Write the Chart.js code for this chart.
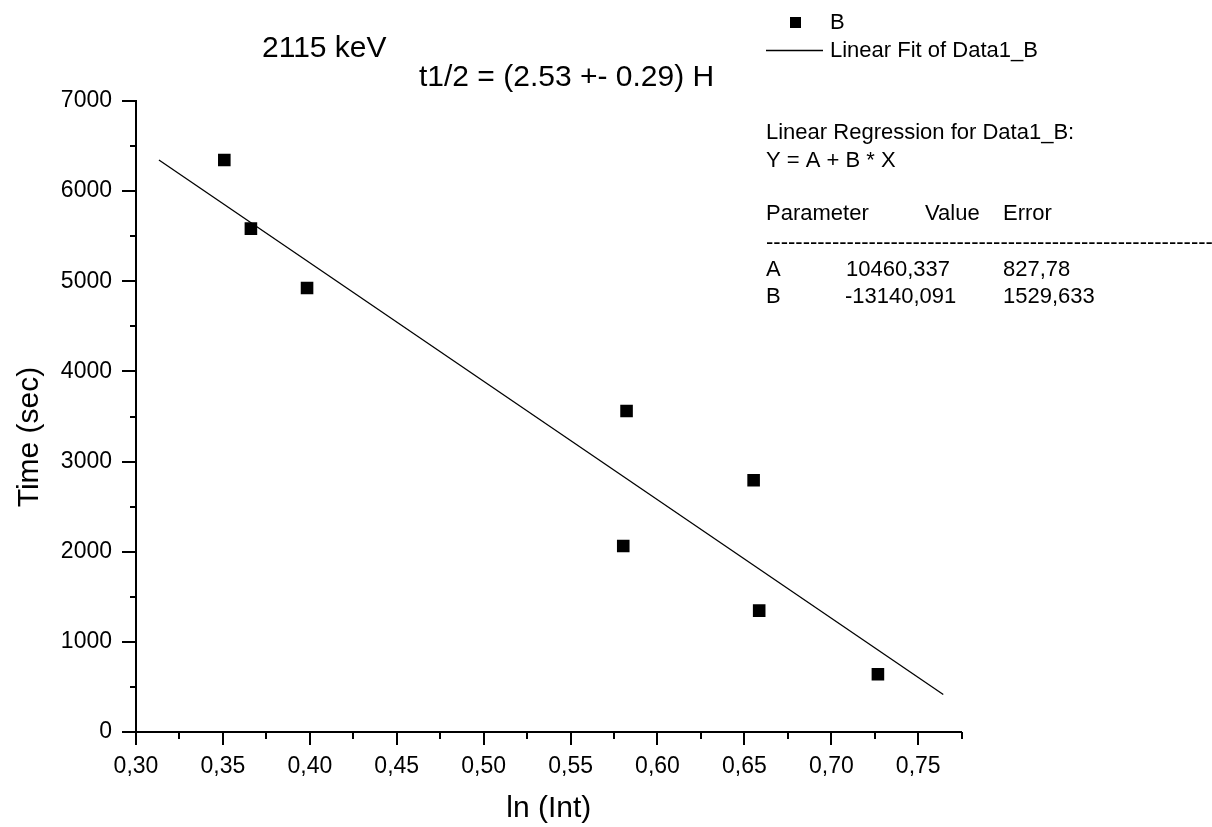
<!DOCTYPE html>
<html><head><meta charset="utf-8">
<script src="https://cdn.jsdelivr.net/npm/chart.js@4.4.0/dist/chart.umd.min.js"></script>
<style>html,body{margin:0;padding:0;background:#fff;overflow:hidden}#wrap{width:1212px;height:827px}</style>
</head><body><div id="wrap"><canvas id="c" width="1212" height="827"></canvas></div>
<script>
// ---- data ----
const xValues = [0.3508, 0.3661, 0.3984, 0.5822, 0.6553, 0.5803, 0.6585, 0.7268];
const yValues = [6346, 5584, 4926, 3561, 2792, 2063, 1346, 640];
const fitX = [0.3132, 0.7644];
const fitA = 10460.337;
const fitB = -13140.091;
const xMajorTicks = [0.30, 0.35, 0.40, 0.45, 0.50, 0.55, 0.60, 0.65, 0.70, 0.75];
const xMinorTicks = [0.325, 0.375, 0.425, 0.475, 0.525, 0.575, 0.625, 0.675, 0.725, 0.775];
const yMajorTicks = [0, 1000, 2000, 3000, 4000, 5000, 6000, 7000];
const yMinorTicks = [500, 1500, 2500, 3500, 4500, 5500, 6500];
const titleText = '2115 keV';
const subtitleText = 't1/2 = (2.53 +- 0.29) H';
const xAxisTitle = 'ln (Int)';
const yAxisTitle = 'Time (sec)';
const seriesLabel = 'B';
const fitLabel = 'Linear Fit of Data1_B';
const regHeader = ['Linear Regression for Data1_B:', 'Y = A + B * X'];
const regColumns = ['Parameter', 'Value', 'Error'];
const regParams = ['A', 'B'];
const regValues = ['10460,337', '-13140,091'];
const regErrors = ['827,78', '1529,633'];

const FONT = '"Liberation Sans", Arial, sans-serif';

const scatterData = xValues.map((x, i) => ({x: x, y: yValues[i]}));
const fitData = fitX.map(x => ({x: x, y: fitA + fitB * x}));

const decorPlugin = {
  id: 'decor',
  afterDraw(chart) {
    const ctx = chart.ctx;
    const xs = chart.scales.x, ys = chart.scales.y;
    const area = chart.chartArea;
    ctx.save();
    ctx.strokeStyle = '#000';
    ctx.lineWidth = 2;
    ctx.beginPath();
    xMajorTicks.forEach(v => { const p = Math.round(xs.getPixelForValue(v)); ctx.moveTo(p, area.bottom); ctx.lineTo(p, area.bottom + 13); });
    xMinorTicks.forEach(v => { const p = Math.round(xs.getPixelForValue(v)); ctx.moveTo(p, area.bottom); ctx.lineTo(p, area.bottom + 7); });
    yMajorTicks.forEach(v => { const p = Math.round(ys.getPixelForValue(v)); ctx.moveTo(area.left, p); ctx.lineTo(area.left - 14, p); });
    yMinorTicks.forEach(v => { const p = Math.round(ys.getPixelForValue(v)); ctx.moveTo(area.left, p); ctx.lineTo(area.left - 6, p); });
    ctx.stroke();

    ctx.fillStyle = '#000';
    ctx.textBaseline = 'alphabetic';
    ctx.textAlign = 'left';
    ctx.font = '30px ' + FONT;
    ctx.fillText(titleText, 262, 57);
    ctx.fillText(subtitleText, 419, 86);

    // y axis title
    ctx.save();
    ctx.translate(30, 437);
    ctx.rotate(-Math.PI / 2);
    ctx.textAlign = 'center';
    ctx.textBaseline = 'middle';
    ctx.fillText(yAxisTitle, 0, 0);
    ctx.restore();

    // legend
    ctx.font = '22px ' + FONT;
    ctx.textBaseline = 'middle';
    ctx.fillRect(790, 17, 11, 11);
    ctx.fillText(chart.data.datasets[0].label, 830, 23);
    ctx.lineWidth = 1.3;
    ctx.beginPath(); ctx.moveTo(766, 50.5); ctx.lineTo(823, 50.5); ctx.stroke();
    ctx.fillText(chart.data.datasets[1].label, 830, 51);

    // regression box
    ctx.fillText(regHeader[0], 766, 133);
    ctx.fillText(regHeader[1], 766, 161);
    ctx.fillText(regColumns[0], 766, 214);
    ctx.fillText(regColumns[1], 925, 214);
    ctx.fillText(regColumns[2], 1003, 214);
    ctx.fillText('-'.repeat(80), 766, 243);
    regParams.forEach((p, i) => {
      const y = 270 + i * 27;
      ctx.fillText(p, 766, y);
      ctx.fillText(regValues[i], regValues[i].startsWith('-') ? 845 : 846, y);
      ctx.fillText(regErrors[i], 1003, y);
    });
    ctx.restore();
  }
};

new Chart(document.getElementById('c'), {
  data: {
    datasets: [
      { type: 'scatter', label: seriesLabel, data: scatterData, pointStyle: 'rect', pointRadius: 8.9, pointHoverRadius: 8.9,
        backgroundColor: '#000', borderWidth: 0, showLine: false },
      { type: 'line', label: fitLabel, data: fitData, borderColor: '#000', borderWidth: 1.3, pointRadius: 0, fill: false, tension: 0 }
    ]
  },
  options: {
    responsive: false,
    animation: false,
    devicePixelRatio: 1,
    layout: { padding: { top: 101, right: 250.3, left: 0, bottom: 0 } },
    plugins: { legend: { display: false }, tooltip: { enabled: false } },
    scales: {
      x: {
        type: 'linear', min: 0.30, max: 0.775,
        afterBuildTicks: s => { s.ticks = xMajorTicks.map(v => ({value: v})); },
        afterFit: s => { s.height = 95; },
        grid: { display: false, drawTicks: false },
        border: { display: true, color: '#000', width: 2 },
        ticks: { padding: 21, color: '#000', font: { family: FONT, size: 23 }, maxRotation: 0, autoSkip: false,
          callback: v => Number(v).toFixed(2).replace('.', ',') },
        title: { display: true, text: xAxisTitle, color: '#000', font: { family: FONT, size: 30 }, padding: { top: 0, bottom: 0 } }
      },
      y: {
        type: 'linear', min: 0, max: 7000,
        afterBuildTicks: s => { s.ticks = yMajorTicks.map(v => ({value: v})); },
        afterFit: s => { s.width = 136; },
        grid: { display: false, drawTicks: false },
        border: { display: true, color: '#000', width: 2 },
        ticks: { padding: 24, color: '#000', font: { family: FONT, size: 23 }, autoSkip: false,
          callback: v => String(v) },
        title: { display: false, text: yAxisTitle }
      }
    }
  },
  plugins: [decorPlugin]
});
</script>
</body></html>
